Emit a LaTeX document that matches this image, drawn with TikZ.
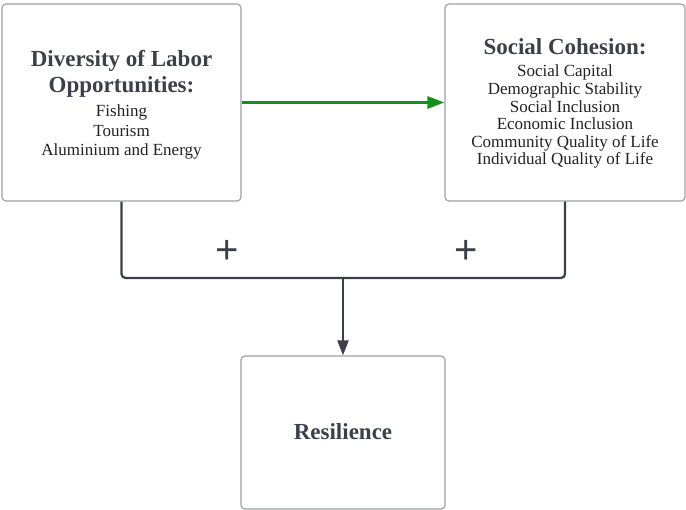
\documentclass[tikz,border=0pt]{standalone}
\usepackage{fontspec}
\setmainfont{Liberation Serif}
\newfontfamily\plusfont{Liberation Sans}
\usetikzlibrary{arrows.meta}

\definecolor{boxline}{HTML}{9EA1A6}
\definecolor{ink}{HTML}{3C4149}
\definecolor{itemink}{HTML}{222222}
\definecolor{flowgreen}{HTML}{16901C}

\tikzset{
  panel/.style={draw=boxline, line width=1.2pt, rounded corners=4pt, fill=white,
                inner sep=0pt, minimum width=#1},
  heading/.style={anchor=base, inner sep=0pt, text=ink,
                  font=\fontsize{23}{26}\selectfont\bfseries},
  item/.style={anchor=base, inner sep=0pt, text=itemink,
               font=\fontsize{17}{19}\selectfont},
  link/.style={draw=ink, line width=2.2pt, rounded corners=4pt},
  sign/.style={inner sep=0pt, text=ink, font=\plusfont\fontsize{40}{40}\selectfont},
}

\begin{document}
\begin{tikzpicture}[x=1pt, y=-1pt]
  \useasboundingbox[fill=white] (0,0) rectangle (686,510);

  % the three boxes
  \node[panel=239pt, minimum height=197pt] (lab) at (121.5,102.5) {};
  \node[panel=240pt, minimum height=197pt] (soc) at (565,102.5) {};
  \node[panel=204pt, minimum height=153pt] (res) at (343,432.5) {};

  % labour box text
  \node[heading] (lab-h1) at (121.5,67) {Diversity of Labor};
  \node[heading] (lab-h2) at (121.5,93) {Opportunities:};
  \node[item] (lab-i1) at (121.5,117) {Fishing};
  \node[item] (lab-i2) at (121.5,136.5) {Tourism};
  \node[item] (lab-i3) at (121.5,156) {Aluminium and Energy};

  % cohesion box text
  \node[heading] (soc-h) at (565,55) {Social Cohesion:};
  \node[item] (soc-i1) at (565,77) {Social Capital};
  \node[item] (soc-i2) at (565,94.6) {Demographic Stability};
  \node[item] (soc-i3) at (565,112.2) {Social Inclusion};
  \node[item] (soc-i4) at (565,129.8) {Economic Inclusion};
  \node[item] (soc-i5) at (565,147.4) {Community Quality of Life};
  \node[item] (soc-i6) at (565,165) {Individual Quality of Life};

  % resilience box text
  \node[heading] (res-h) at (343,440) {Resilience};

  % green link between the upper boxes
  \draw[flowgreen, line width=3pt, -{Triangle[length=17pt, width=12pt]}]
    (lab.east) -- (soc.west);

  % both upper boxes feed into resilience
  \coordinate (join) at (343,278);
  \draw[link] (lab.south) |- (join);
  \draw[link] (soc.south) |- (join);
  \draw[draw=ink, fill=ink, line width=2.2pt, -{Triangle[length=15pt, width=11pt]}]
    (join) -- (res.north);

  \node[sign] (plus-l) at (227,251.5) {+};
  \node[sign] (plus-r) at (466,251.5) {+};
\end{tikzpicture}
\end{document}
